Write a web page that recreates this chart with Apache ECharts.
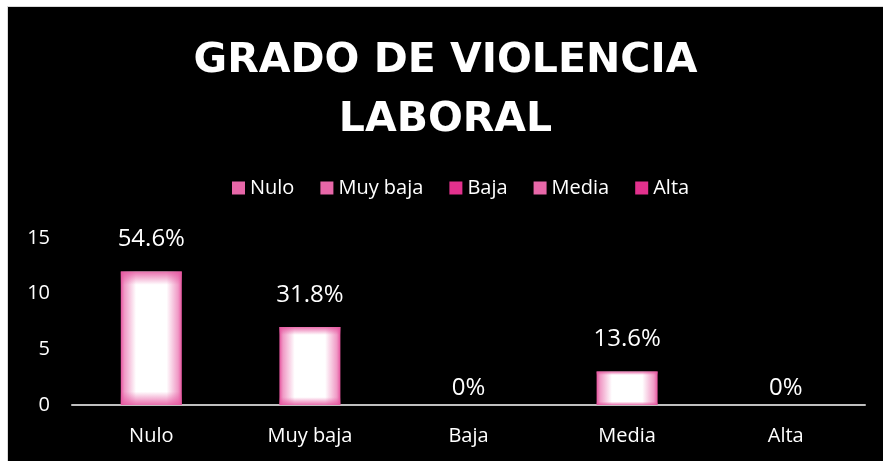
<!DOCTYPE html>
<html>
<head>
<meta charset="utf-8">
<script src="https://cdn.jsdelivr.net/npm/echarts@6/dist/echarts.min.js"></script>
<style>
  html, body { margin: 0; padding: 0; background: #fff; }
  #chart {
    position: absolute;
    left: 7px;
    top: 6px;
    width: 875px;
    height: 454px;
    border-left: 1px solid #d9d9d9;
    border-top: 1px solid #d9d9d9;
    background: #000;
  }
</style>
</head>
<body>
<div id="chart"></div>
<script>
const categories = ['Nulo', 'Muy baja', 'Baja', 'Media', 'Alta']
const counts = [12, 7, 0, 3, 0]
const percentLabels = ['54.6%', '31.8%', '0%', '13.6%', '0%']
const yTicks = [0, 5, 10, 15]

const pink = '#e6559f'
const font = 'Open Sans'

const chartDom = echarts.init(document.getElementById('chart'))

const sideFade = new echarts.graphic.LinearGradient(0, 0, 1, 0, [
  { offset: 0, color: pink },
  { offset: 0.06, color: '#f09ac6' },
  { offset: 0.25, color: '#fff' },
  { offset: 0.75, color: '#fff' },
  { offset: 0.94, color: '#f09ac6' },
  { offset: 1, color: pink },
])
const endFade = new echarts.graphic.LinearGradient(0, 0, 0, 1, [
  { offset: 0, color: 'rgba(230,85,159,0.85)' },
  { offset: 0.1, color: 'rgba(230,85,159,0)' },
  { offset: 0.9, color: 'rgba(230,85,159,0)' },
  { offset: 1, color: 'rgba(230,85,159,0.85)' },
])

const barSeries = categories.map((name, i) => ({
  name: name,
  type: 'bar',
  barWidth: 61,
  barGap: '-100%',
  data: counts.map((v, j) => {
    if (j !== i) return '-'
    return {
      value: v,
      label: { distance: v === 0 ? 5 : 20 },
    }
  }),
  itemStyle: { color: sideFade },
  label: {
    show: true,
    position: 'top',
    color: '#fff',
    fontFamily: font,
    fontSize: 24,
    formatter: () => percentLabels[i],
  },
}))

const option = {
  backgroundColor: '#000',
  animation: false,
  title: {
    text: 'GRADO DE VIOLENCIA\nLABORAL',
    left: 'center',
    top: 20,
    textStyle: {
      color: '#fff',
      fontFamily: 'DejaVu Sans',
      fontWeight: 'bold',
      fontSize: 41,
      lineHeight: 59,
    },
  },
  legend: {
    top: 166,
    left: 219,
    itemWidth: 13,
    itemHeight: 13,
    itemGap: 26,
    textStyle: { color: '#fff', fontFamily: font, fontSize: 20 },
    data: categories.map((name, i) => ({
      name: name,
      icon: 'rect',
      itemStyle: { color: i === 2 || i === 4 ? '#e2318d' : '#e767a8' },
    })),
  },
  grid: { left: 64, right: 18, top: 231, bottom: 56 },
  xAxis: {
    type: 'category',
    data: categories,
    axisLine: { lineStyle: { color: '#bfbfbf', width: 2 } },
    axisTick: { show: false },
    axisLabel: { color: '#fff', fontFamily: font, fontSize: 20, margin: 21 },
  },
  yAxis: {
    type: 'value',
    min: yTicks[0],
    max: yTicks[yTicks.length - 1],
    interval: 5,
    axisLine: { show: false },
    axisTick: { show: false },
    splitLine: { show: false },
    axisLabel: { color: '#fff', fontFamily: font, fontSize: 20, margin: 22 },
  },
  series: barSeries.concat([
    {
      name: 'overlay',
      type: 'bar',
      barWidth: 61,
      barGap: '-100%',
      silent: true,
      data: counts.map((v) => (v === 0 ? '-' : v)),
      itemStyle: { color: endFade },
    },
  ]),
}

chartDom.setOption(option)
window.addEventListener('resize', () => {
  chartDom.resize()
})
</script>
</body>
</html>
